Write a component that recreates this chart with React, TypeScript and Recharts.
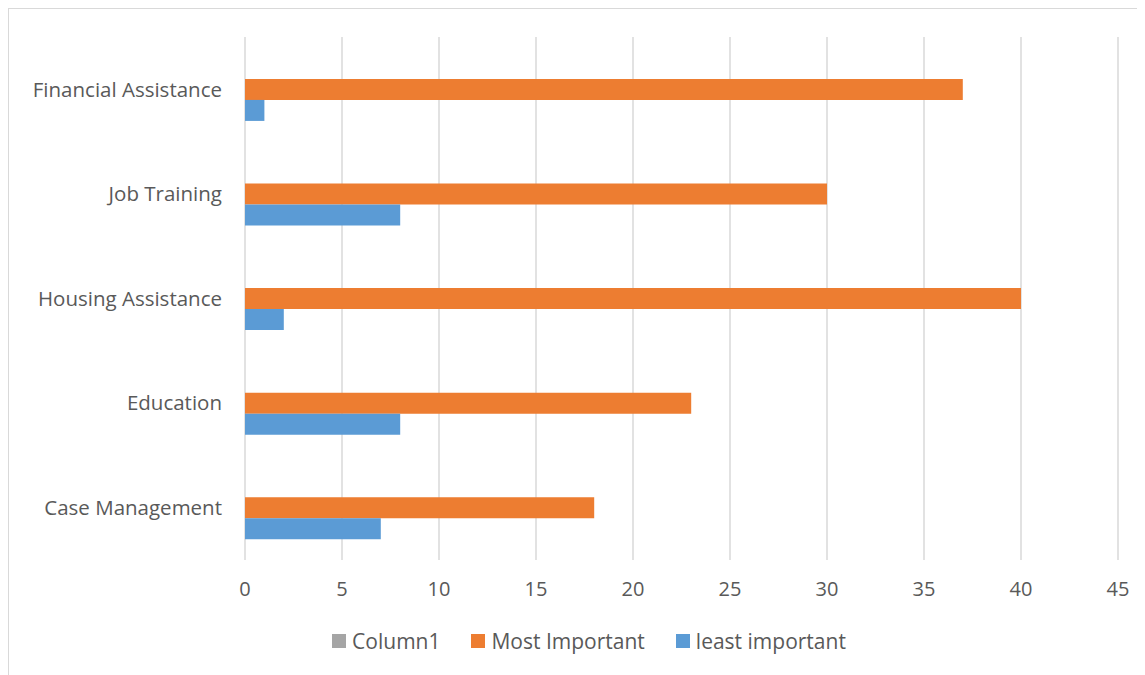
import React from "react";
import { BarChart, Bar, XAxis, YAxis, CartesianGrid, Legend } from "recharts";

// categories listed bottom-to-top as in the source spreadsheet, shown top-to-bottom here
const categories = ["Financial Assistance", "Job Training", "Housing Assistance", "Education", "Case Management"];
const column1 = [0, 0, 0, 0, 0];
const mostImportant = [37, 30, 40, 23, 18];
const leastImportant = [1, 8, 2, 8, 7];
const xTicks = [0, 5, 10, 15, 20, 25, 30, 35, 40, 45];

const data = categories.map((name, i) => ({
  name,
  column1: column1[i],
  most: mostImportant[i],
  least: leastImportant[i],
}));

const FONT = "'Open Sans', 'Noto Sans', sans-serif";
const TEXT = "#595959";

function LegendContent({ payload }: any) {
  return (
    <div
      style={{
        display: "flex",
        justifyContent: "center",
        gap: 31,
        paddingLeft: 51,
        fontFamily: FONT,
        fontSize: 21,
        color: TEXT,
      }}
    >
      {(payload || []).map((p: any) => (
        <div key={p.value} style={{ display: "flex", alignItems: "center" }}>
          <span style={{ width: 14, height: 14, background: p.color, display: "inline-block", marginRight: 6 }} />
          <span>{p.value}</span>
        </div>
      ))}
    </div>
  );
}

export default function App() {
  return (
    <div style={{ width: 1145, height: 675, border: "1px solid #d9d9d9", boxSizing: "border-box", background: "#fff" }}>
      <BarChart
        width={1143}
        height={673}
        data={data}
        layout="vertical"
        margin={{ top: 28, right: 34, bottom: 34, left: 0 }}
        barCategoryGap="20%"
        barGap={0}
      >
        <CartesianGrid horizontal={false} stroke="#d9d9d9" strokeWidth={1.5} />
        <XAxis
          type="number"
          domain={[0, 45]}
          ticks={xTicks}
          axisLine={false}
          tickLine={false}
          tickSize={0}
          tickMargin={22}
          height={60}
          tick={{ fill: TEXT, fontSize: 20, fontFamily: FONT }}
        />
        <YAxis
          type="category"
          dataKey="name"
          width={236}
          axisLine={false}
          tickLine={false}
          tickSize={0}
          tickMargin={23}
          tick={{ fill: TEXT, fontSize: 20.5, fontFamily: FONT }}
        />
        <Legend content={<LegendContent />} wrapperStyle={{ top: 618 }} />
        <Bar dataKey="column1" name="Column1" fill="#a5a5a5" isAnimationActive={false} />
        <Bar dataKey="most" name="Most Important" fill="#ed7d31" isAnimationActive={false} />
        <Bar dataKey="least" name="least important" fill="#5b9bd5" isAnimationActive={false} />
      </BarChart>
    </div>
  );
}
